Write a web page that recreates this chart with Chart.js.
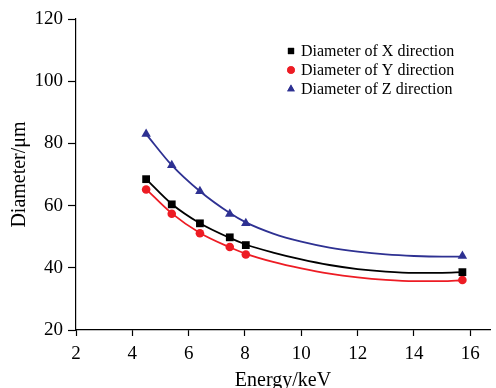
<!DOCTYPE html>
<html>
<head>
<meta charset="utf-8">
<script src="https://cdn.jsdelivr.net/npm/chart.js@4/dist/chart.umd.min.js"></script>
<style>
  html, body { margin: 0; padding: 0; background: #fff; }
  #wrap { width: 496px; height: 388px; }
</style>
</head>
<body>
<div id="wrap"><canvas id="chart"></canvas></div>
<script>
// measured points
const energy = [4.49, 5.40, 6.40, 7.46, 8.03, 15.72];
const diaX = [68.5, 60.4, 54.3, 49.8, 47.3, 38.6];
const diaY = [65.2, 57.4, 51.1, 46.7, 44.3, 36.1];
const diaZ = [83.0, 73.0, 64.6, 57.3, 54.3, 43.8];

// fitted curves
const fitE = [4.49, 5.40, 6.40, 7.46, 8.03, 9, 10, 11, 12, 13, 14, 15, 15.72];
const fitX = [68.5, 60.5, 54.3, 49.6, 47.5, 44.9, 42.7, 40.9, 39.6, 38.8, 38.4, 38.4, 38.6];
const fitY = [65.3, 57.5, 51.2, 46.6, 44.5, 41.9, 39.8, 38.1, 36.9, 36.1, 35.7, 35.7, 36.0];
const fitZ = [83.0, 73.0, 64.6, 57.6, 54.6, 51.0, 48.4, 46.5, 45.2, 44.3, 43.8, 43.6, 43.6];

const xTicks = [2, 4, 6, 8, 10, 12, 14, 16];
const yTicks = [20, 40, 60, 80, 100, 120];

const names = ['Diameter of X direction', 'Diameter of Y direction', 'Diameter of Z direction'];
const colors = ['#000000', '#ed1c24', '#2e3192'];
const shapes = ['rect', 'circle', 'triangle'];
const radii = [5.5, 4.3, 5.5];

function pts(xs, ys) {
  return xs.map((x, i) => ({ x: x, y: ys[i] }));
}

const serif = '"Liberation Serif", "Times New Roman", serif';

const curves = [fitX, fitY, fitZ].map((d, i) => ({
  data: pts(fitE, d),
  showLine: true,
  borderColor: colors[i],
  borderWidth: 1.8,
  pointRadius: 0,
  tension: 0.4,
  cubicInterpolationMode: 'monotone'
}));

const markers = [diaX, diaY, diaZ].map((d, i) => ({
  data: pts(energy, d),
  showLine: false,
  pointStyle: shapes[i],
  pointRadius: radii[i],
  backgroundColor: colors[i],
  borderColor: colors[i],
  borderWidth: 0
}));

// legend inside the plot
const legendBox = {
  id: 'legendBox',
  afterDraw(chart) {
    const ctx = chart.ctx;
    ctx.save();
    ctx.font = '16px ' + serif;
    ctx.textBaseline = 'middle';
    const rows = [51, 70, 89];
    names.forEach((n, i) => {
      ctx.fillStyle = colors[i];
      Chart.helpers.drawPoint(ctx, { pointStyle: shapes[i], radius: i == 1 ? 3.8 : 4.4, rotation: 0, borderWidth: 0 }, 291, rows[i]);
      ctx.fill();
      ctx.fillStyle = '#000';
      ctx.fillText(n, 301, rows[i] + 1);
    });
    ctx.restore();
  }
};

new Chart(document.getElementById('chart'), {
  type: 'scatter',
  data: { datasets: [...curves, ...markers] },
  options: {
    responsive: true,
    maintainAspectRatio: false,
    animation: false,
    layout: { padding: { top: 19, right: 6, left: 0, bottom: 0 } },
    plugins: {
      legend: { display: false },
      tooltip: { enabled: false }
    },
    scales: {
      x: {
        type: 'linear',
        min: 2,
        max: 16.7,
        afterBuildTicks: s => { s.ticks = xTicks.map(v => ({ value: v })); },
        afterFit: s => { s.height = 58; },
        grid: { drawOnChartArea: false, color: '#000', tickLength: 6, tickWidth: 1.2 },
        border: { color: '#000', width: 1.2 },
        ticks: { color: '#000', font: { family: serif, size: 19 }, padding: 7 },
        title: { display: true, text: 'Energy/keV', color: '#000', font: { family: serif, size: 20 }, padding: { top: 0, bottom: -5 } }
      },
      y: {
        min: 20,
        max: 120,
        afterBuildTicks: s => { s.ticks = yTicks.map(v => ({ value: v })); },
        afterFit: s => { s.width = 76; },
        grid: { drawOnChartArea: false, color: '#000', tickLength: 8, tickWidth: 1.2 },
        border: { color: '#000', width: 1.2 },
        ticks: { color: '#000', font: { family: serif, size: 19 }, padding: 5 },
        title: { display: true, text: 'Diameter/μm', color: '#000', font: { family: serif, size: 20 }, padding: { top: 8, bottom: 0 } }
      }
    }
  },
  plugins: [legendBox]
});
</script>
</body>
</html>
